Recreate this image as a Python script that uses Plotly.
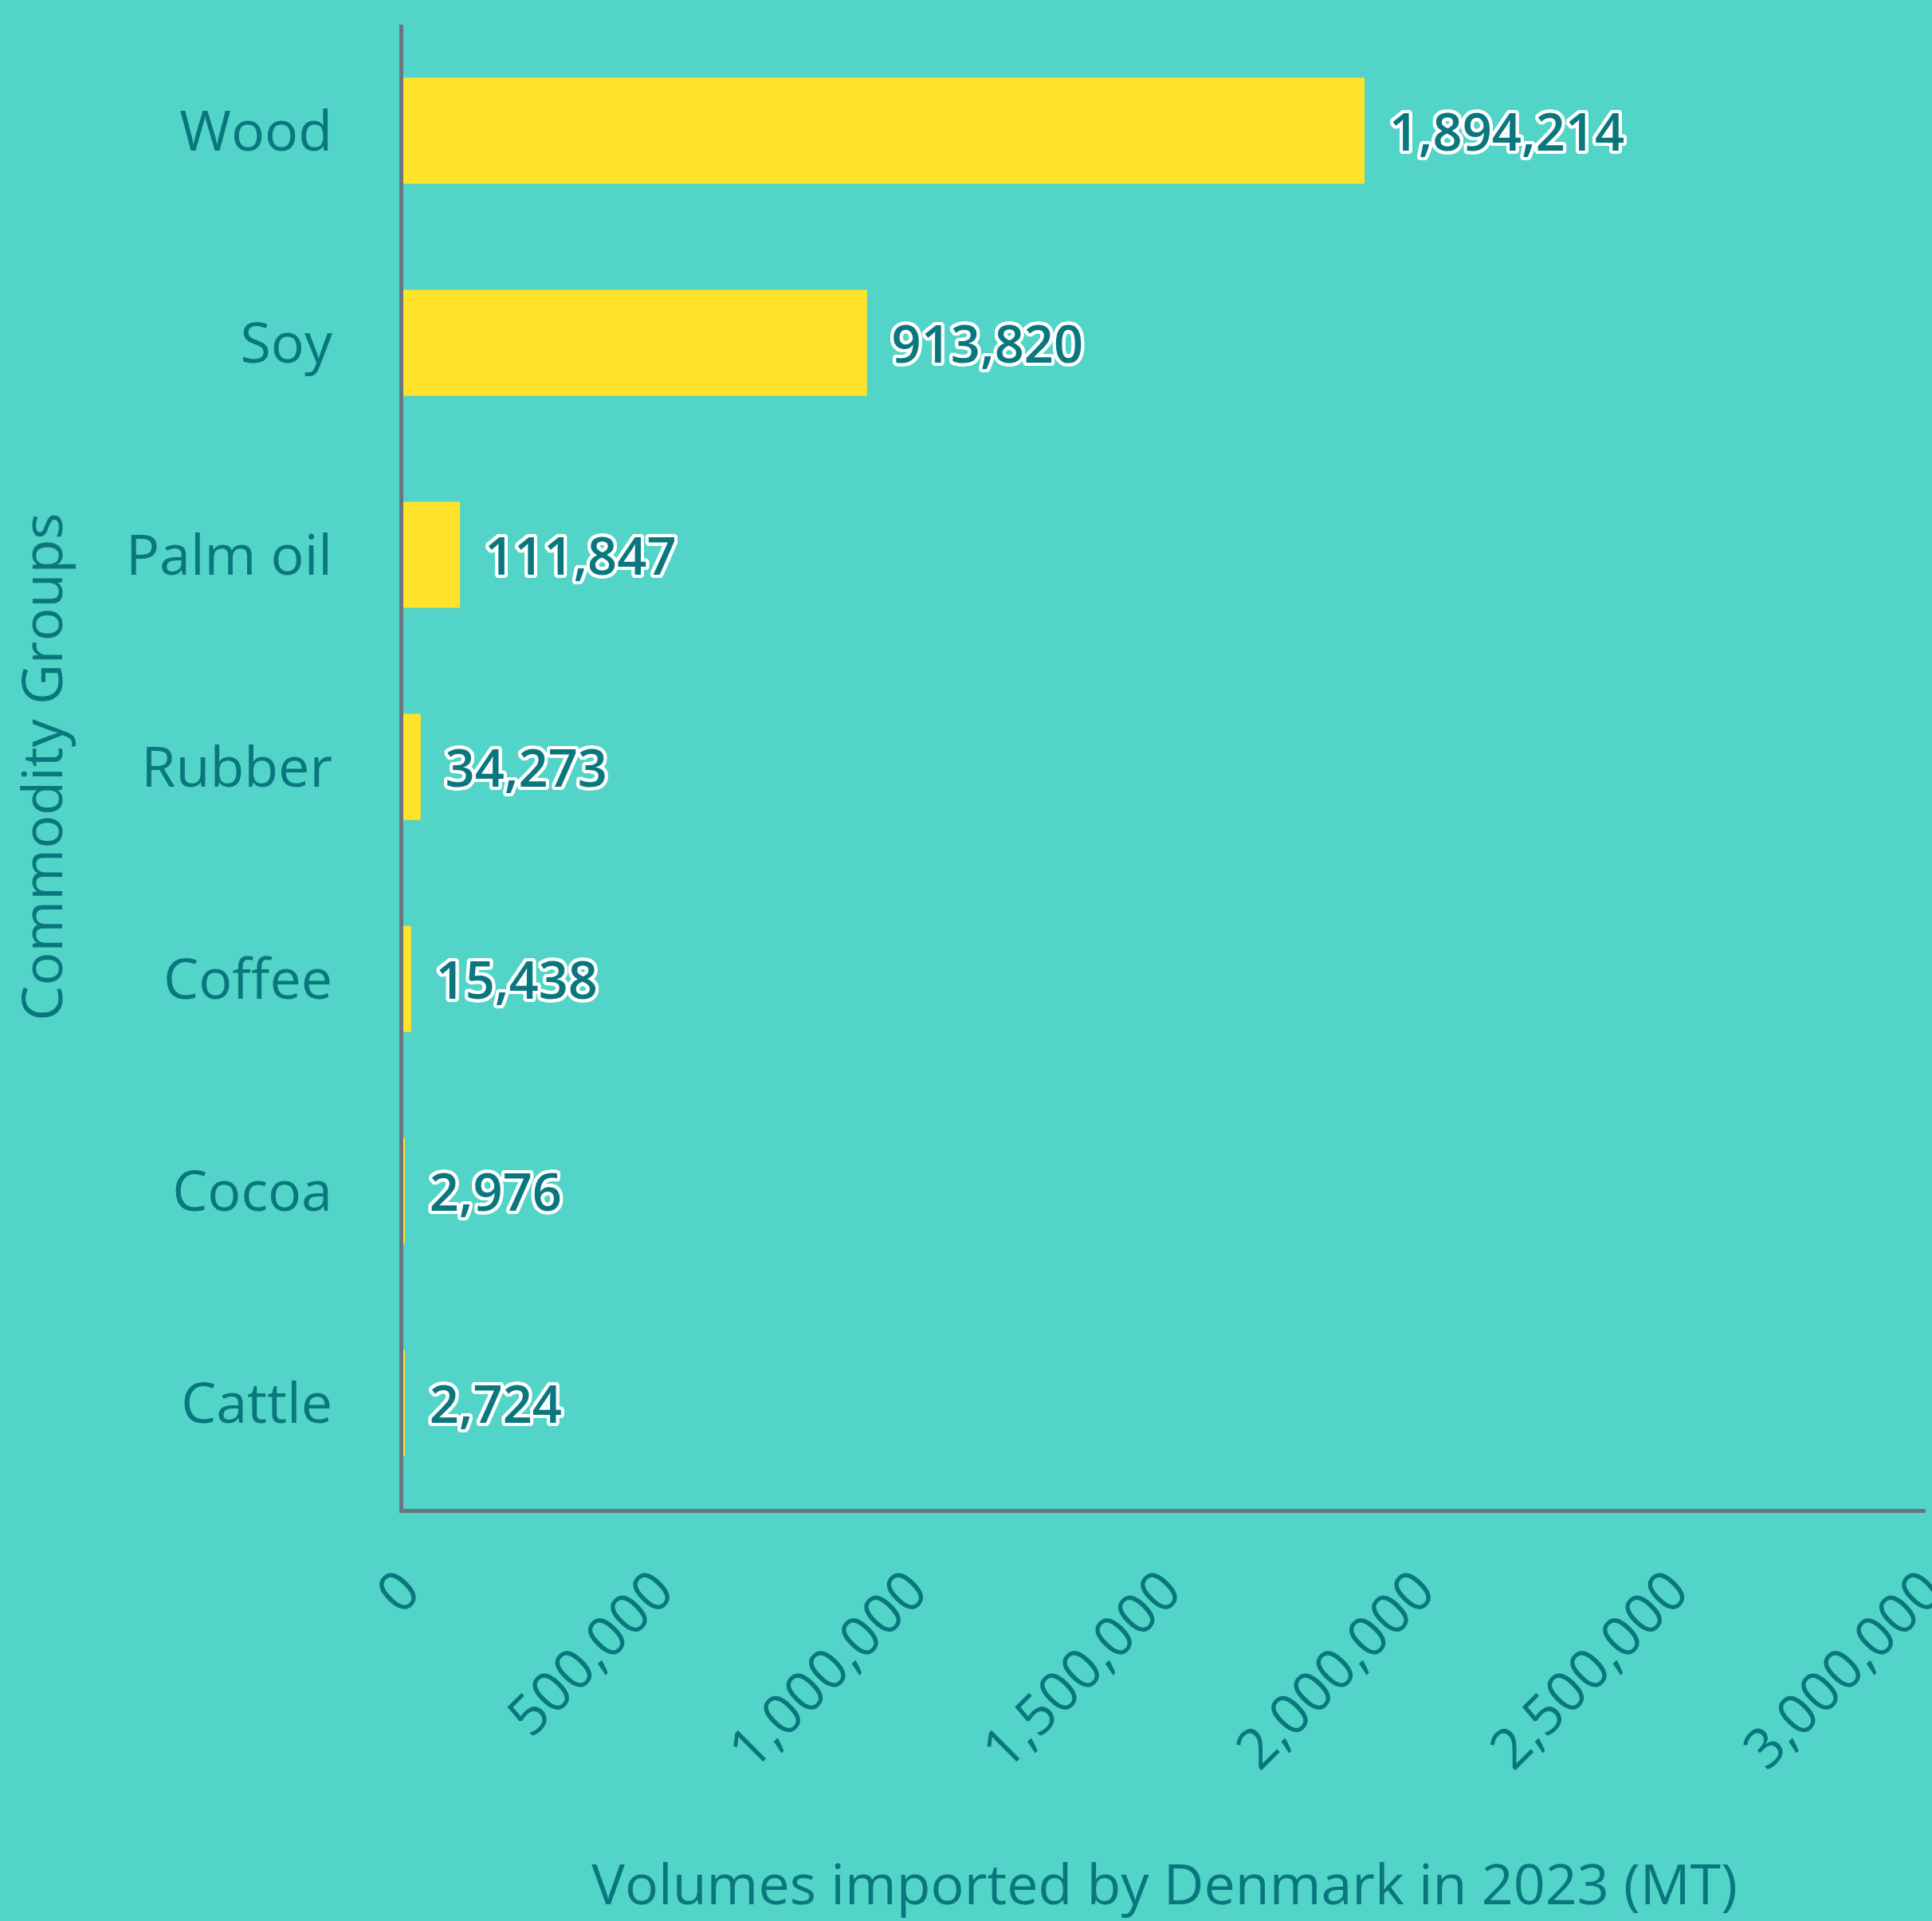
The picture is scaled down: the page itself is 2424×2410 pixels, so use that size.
import plotly.graph_objects as go

categories = ["Wood", "Soy", "Palm oil", "Rubber", "Coffee", "Cocoa", "Cattle"]
volumes = [1894214, 913820, 111847, 34273, 15438, 2976, 2724]
x_ticks = [0, 500000, 1000000, 1500000, 2000000, 2500000, 3000000]
x_tick_labels = ["0", "500,000", "1,000,000", "1,500,000", "2,000,000", "2,500,000", "3,000,000"]

BG = "#52d5c8"
TEAL = "#0a777e"
YELLOW = "#ffe32b"
AXIS = "#6b7580"
FONT = "Open Sans"

labels = ["\u00a0\u2009" + f"{v:,}" for v in volumes]

outline = ", ".join(
    f"{dx}px {dy}px 0 #ffffff"
    for dx, dy in [(4, 0), (-4, 0), (0, 4), (0, -4), (3, 3), (-3, -3), (3, -3), (-3, 3),
                   (2, 4), (-2, 4), (2, -4), (-2, -4), (4, 2), (-4, 2), (4, -2), (-4, -2)]
)

fig = go.Figure(
    go.Bar(
        x=volumes,
        y=categories,
        orientation="h",
        marker=dict(color=YELLOW, line=dict(width=0)),
        text=labels,
        textposition="outside",
        cliponaxis=False,
        textfont=dict(family=FONT, size=65, color=TEAL, weight=600, shadow=outline),
        width=0.5,
    )
)

fig.update_layout(
    width=2424,
    height=2410,
    paper_bgcolor=BG,
    plot_bgcolor=BG,
    margin=dict(l=506, r=8, t=31, b=517, autoexpand=False),
    showlegend=False,
    font=dict(family=FONT, color=TEAL, size=65),
)

fig.update_xaxes(
    range=[0, 3000000],
    tickvals=x_ticks,
    ticktext=x_tick_labels,
    tickangle=-45,
    tickfont=dict(family=FONT, size=70, color=TEAL),
    ticklabeloverflow="allow",
    automargin=False,
    showgrid=False,
    zeroline=False,
    showline=True,
    linecolor=AXIS,
    linewidth=5,
    ticks="",
    ticklabelstandoff=28,
    title=dict(text="Volumes imported by Denmark in 2023 (MT)",
               font=dict(family=FONT, size=70, color=TEAL), standoff=112),
)

fig.update_yaxes(
    categoryorder="array",
    categoryarray=categories,
    autorange="reversed",
    tickfont=dict(family=FONT, size=70, color=TEAL),
    automargin=False,
    showgrid=False,
    zeroline=False,
    showline=True,
    linecolor=AXIS,
    linewidth=5,
    ticks="",
    ticklabelstandoff=70,
    title=dict(text="Commodity Groups", font=dict(family=FONT, size=70, color=TEAL), standoff=58),
)

fig.write_html(
    "out.html",
    config={"displayModeBar": False},
    post_script="document.body.style.margin='0px';",
)
